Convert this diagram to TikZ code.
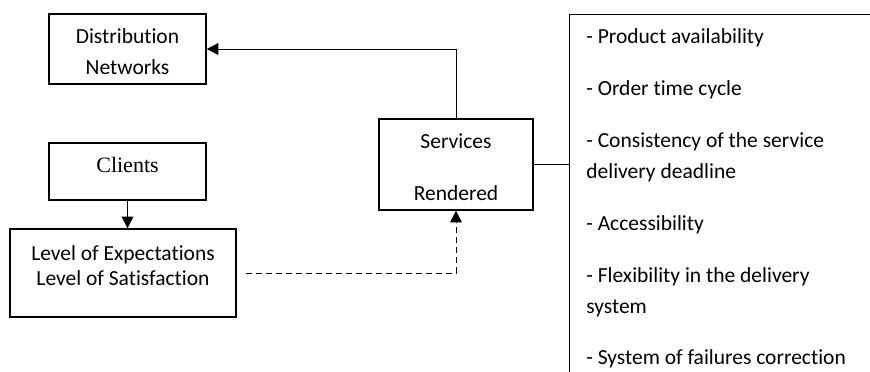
\documentclass[tikz,border=0pt]{standalone}
\usepackage{fontspec}
\setmainfont{Carlito}[Ligatures={NoCommon}]
\newfontfamily\clientsfont{Liberation Serif}
\usetikzlibrary{arrows.meta}

\tikzset{
  box/.style={draw, line width=0.8pt, inner sep=0pt},
  boxtext/.style={align=center, inner sep=0pt},
  item/.style={anchor=west, align=left, inner sep=0pt},
  link/.style={line width=0.6pt, -{Triangle[length=7pt,width=7pt]}},
  plain/.style={line width=0.6pt},
}

\begin{document}
\begin{tikzpicture}[x=0.6pt,y=-0.6pt,font=\fontsize{12.9}{18.6}\selectfont]
  \useasboundingbox (0,0) rectangle (870,372);
  % left column
  \node[box, minimum width=94.2pt, minimum height=42pt] (dist) at (127.5,49) {};
  \node[boxtext] (disttext) at (127.5,52) {Distribution\\Networks};
  \node[box, minimum width=94.2pt, minimum height=34.2pt] (cli) at (127.5,171.5) {};
  \node[boxtext, font=\clientsfont\fontsize{13.2}{15}\selectfont] (clitext) at (127.5,165) {Clients};
  \node[box, minimum width=135.6pt, minimum height=52.8pt] (lev) at (123,273) {};
  \node[boxtext, font=\fontsize{12.9}{15}\selectfont] (levtext) at (123,266)
    {Level of Expectations\\Level of Satisfaction};
  % middle
  \node[box, minimum width=92.4pt, minimum height=54.6pt] (serv) at (456,164.5) {};
  \node[boxtext, font=\fontsize{12.9}{31.2}\selectfont] (servtext) at (456,167.5) {Services\\Rendered};
  % right list
  \coordinate (listtop) at (569,14);
  \coordinate (listright) at (870,14);
  \coordinate (listbottom) at (569,372);
  \draw[plain] (listright) -- (listtop) -- (listbottom);
  \node[item] (it1) at (586,38) {- Product availability};
  \node[item] (it2) at (586,90) {- Order time cycle};
  \node[item] (it3) at (586,157.5) {- Consistency of the service\\delivery deadline};
  \node[item] (it4) at (586,225) {- Accessibility};
  \node[item] (it5) at (586,292) {- Flexibility in the delivery\\system};
  \node[item] (it6) at (586,359) {- System of failures correction};
  % connectors
  \coordinate (dashstart) at ([xshift=5.4pt]lev.east);
  \draw[link] (serv.north) |- (dist.east);
  \draw[link] (cli.south) -- (cli.south |- lev.north);
  \draw[link, dash pattern=on 3.6pt off 2.4pt] (dashstart) -| (serv.south);
  \draw[plain] (serv.east) -- (serv.east -| listtop);
\end{tikzpicture}
\end{document}
